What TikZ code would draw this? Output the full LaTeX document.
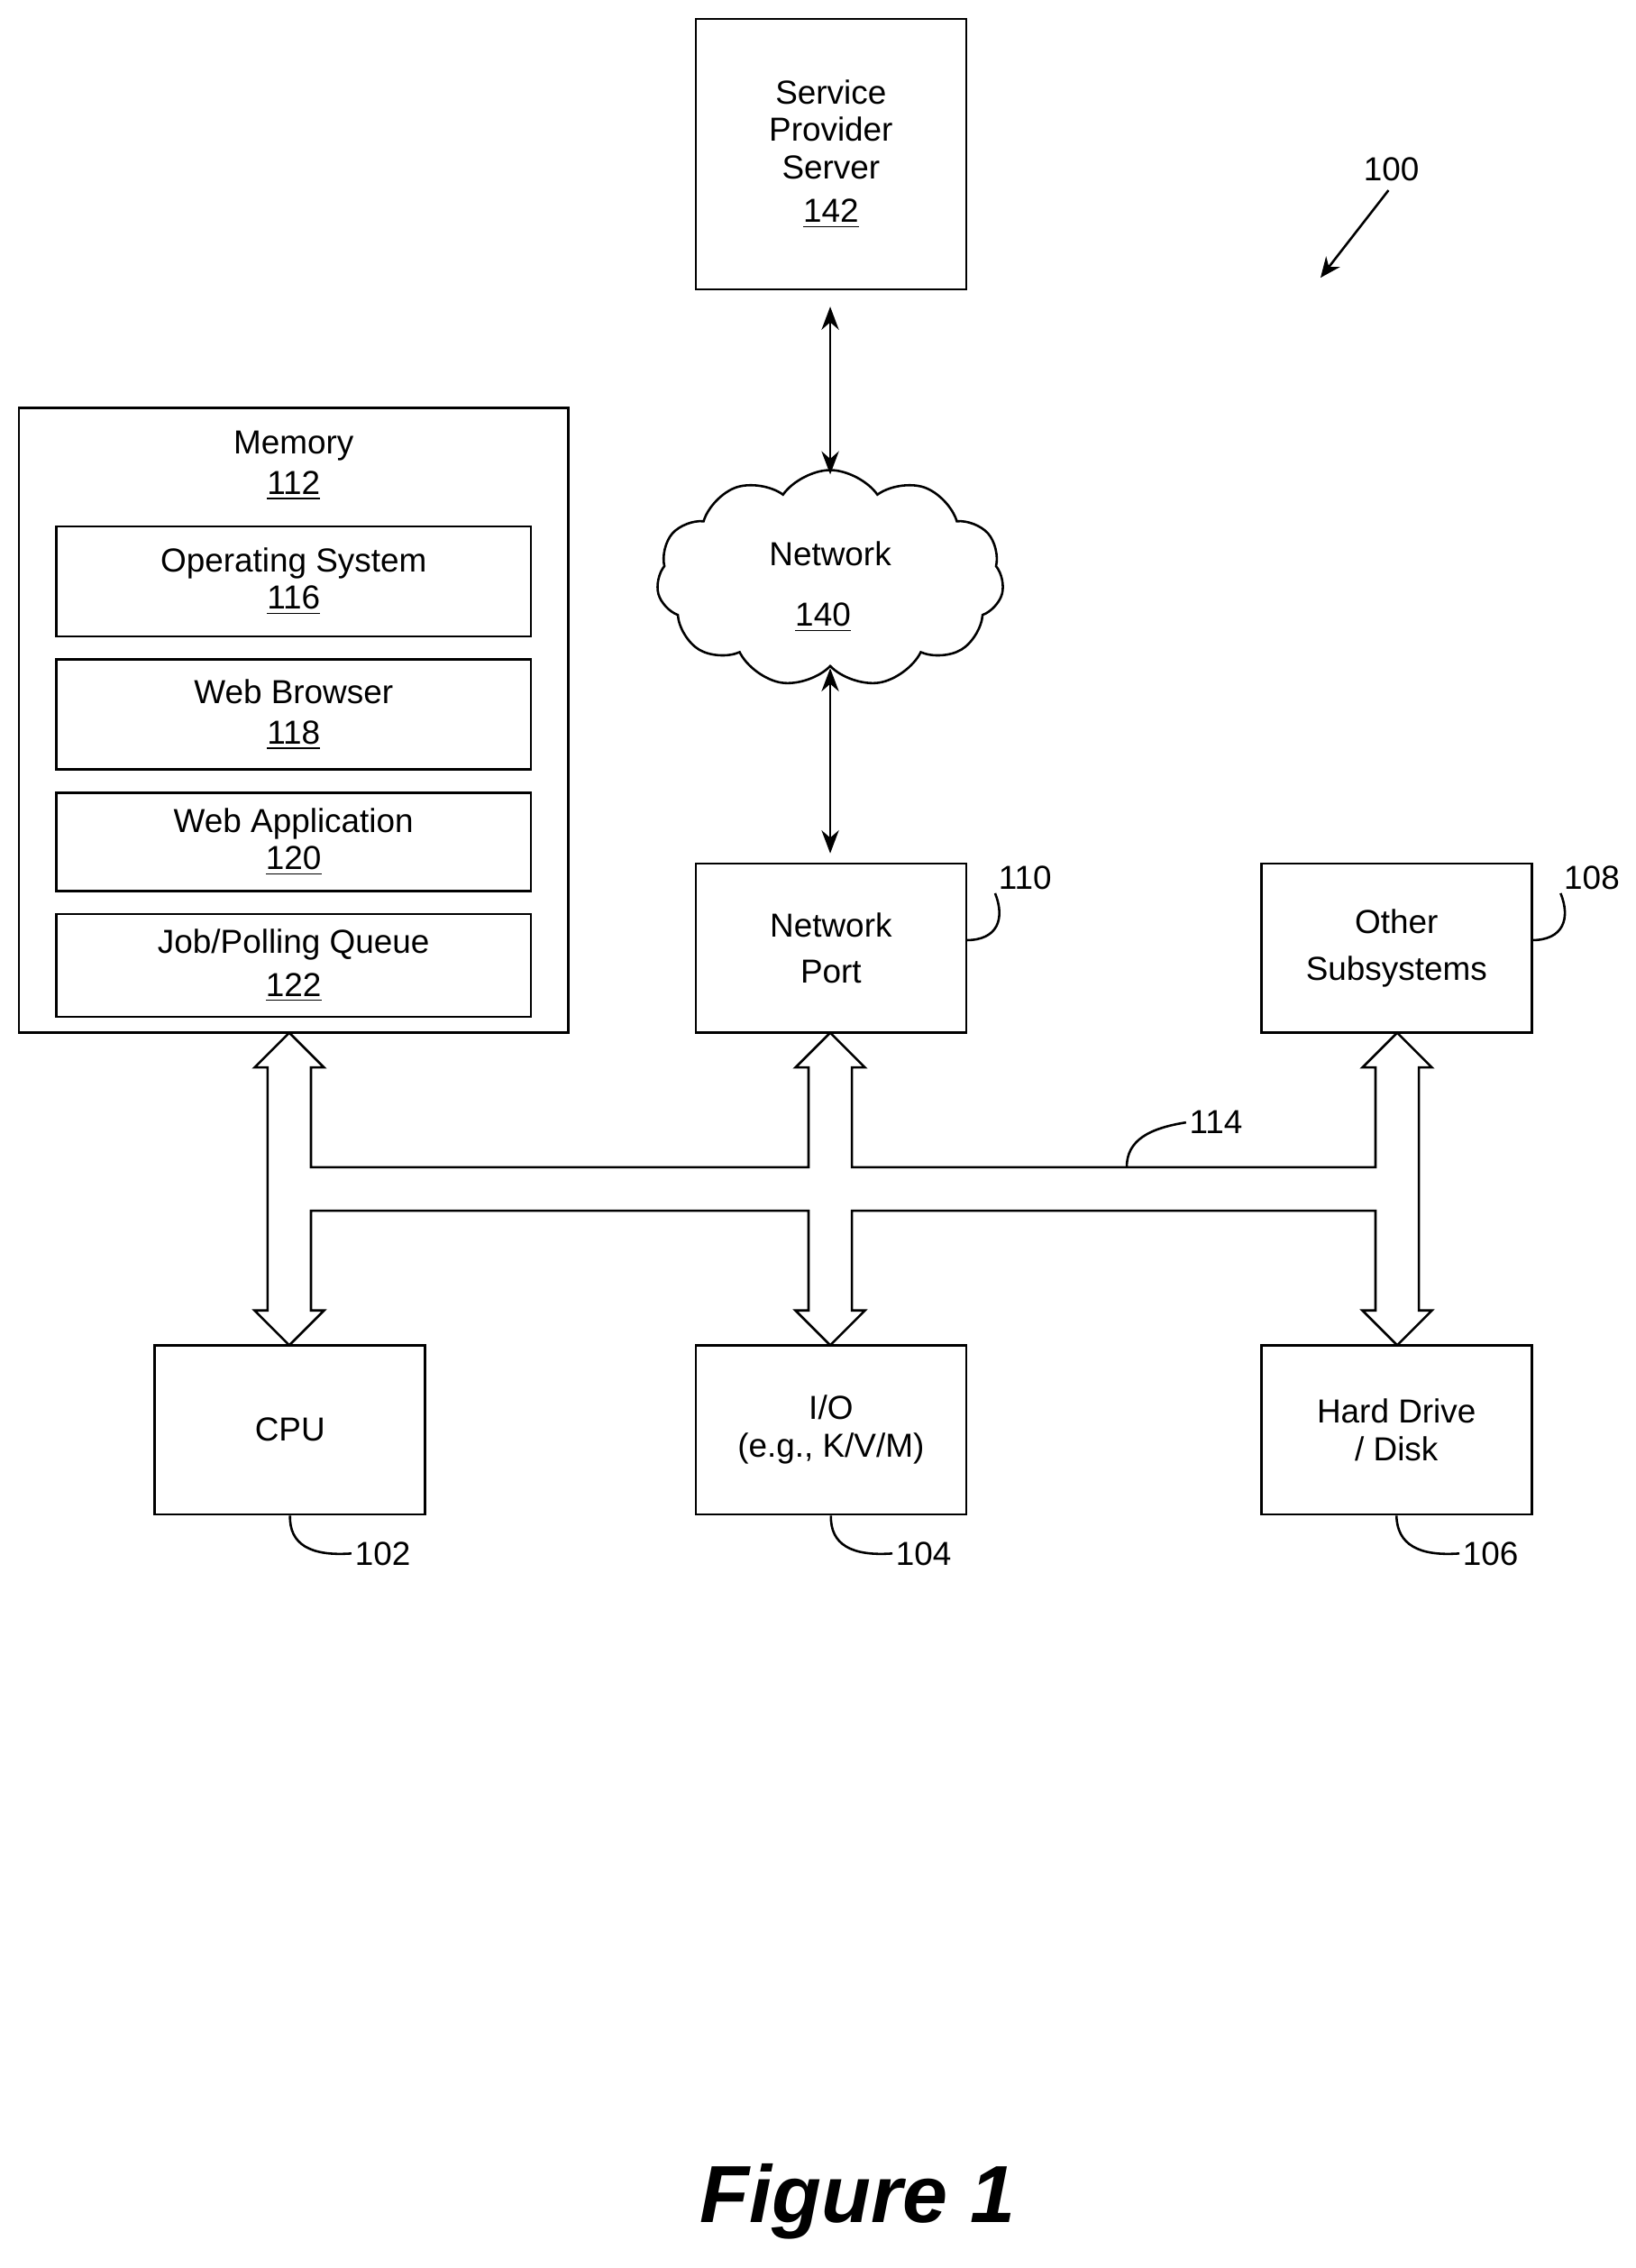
\documentclass[tikz,border=0pt]{standalone}
\usepackage{fontspec}
\setmainfont{Liberation Sans}
\usetikzlibrary{shapes.symbols,arrows.meta}
\begin{document}
\begin{tikzpicture}[x=0.5pt,y=-0.5pt,
  box/.style={draw,line width=0.8pt,inner sep=0pt,align=center,font=\fontsize{11.5}{13}\selectfont},
  lbl/.style={font=\fontsize{11.5}{13}\selectfont,inner sep=1pt},
  lead/.style={line width=0.8pt},
  dbl/.style={line width=0.8pt,{Stealth[length=8pt,width=6pt]}-{Stealth[length=8pt,width=6pt]}}]
\useasboundingbox (0,0) rectangle (1131,1568);
\fill[white] (0,0) rectangle (1131,1568);
% server
\node[box,minimum width=93.5pt,minimum height=93.5pt] (sps) at (574.5,106.5) {Service\\Provider\\Server\\[2pt]\underline{142}};
\node[lbl] (l100) at (962,117) {100};
\coordinate (a100) at (913,192);
\draw[line width=0.8pt,-{Stealth[length=7pt,width=6pt]}] (l100.south) ++(-2,4) -- (a100);
% cloud
\node[cloud,draw,line width=0.8pt,cloud puffs=11,cloud puff arc=110,aspect=1.6,minimum width=120pt,minimum height=75pt,inner sep=0pt] (net) at (574,400) {};
\node[lbl] (nett) at (574,383) {Network};
\node[lbl] (net140) at (569,427) {\underline{140}};
\coordinate (c1) at (574,212); \coordinate (c2) at (574,328);
\draw[dbl] (c1) -- (c2);
\coordinate (c3) at (574,462); \coordinate (c4) at (574,590);
\draw[dbl] (c3) -- (c4);
% memory
\node[box,minimum width=190pt,minimum height=216pt] (mem) at (203,498) {};
\node[lbl,align=center] (memt) at (203,322) {Memory\\[1pt]\underline{112}};
\node[box,minimum width=164pt,minimum height=38pt] (os) at (203,402) {Operating System\\\underline{116}};
\node[box,minimum width=164pt,minimum height=38pt] (wb) at (203,494) {Web Browser\\[1pt]\underline{118}};
\node[box,minimum width=164pt,minimum height=34pt] (wa) at (203,582) {Web Application\\\underline{120}};
\node[box,minimum width=164pt,minimum height=35.5pt] (jq) at (203,667.5) {Job/Polling Queue\\[2pt]\underline{122}};
% ports
\node[box,minimum width=93.5pt,minimum height=58.5pt] (np) at (574.5,655.5) {Network\\[3pt]Port};
\node[box,minimum width=93.5pt,minimum height=58.5pt] (os2) at (965.5,655.5) {Other\\[3pt]Subsystems};
\node[box,minimum width=93.5pt,minimum height=58.5pt] (cpu) at (200.5,988.5) {CPU};
\node[box,minimum width=93.5pt,minimum height=58.5pt] (io) at (574.5,988.5) {I/O\\(e.g., K/V/M)};
\node[box,minimum width=93.5pt,minimum height=58.5pt] (hd) at (965.5,988.5) {Hard Drive\\/ Disk};
\node[lbl,anchor=west] (l110) at (688,607) {110};
\node[lbl,anchor=west] (l108) at (1079,607) {108};
\node[lbl,anchor=west] (l102) at (243,1074) {102};
\node[lbl,anchor=west] (l104) at (617,1074) {104};
\node[lbl,anchor=west] (l106) at (1009,1074) {106};
\node[lbl,anchor=west] (l114) at (820,776) {114};
\draw[lead] (668,650) .. controls (690,650) and (695,635) .. (l110.south west);
\draw[lead] (1059,650) .. controls (1081,650) and (1086,635) .. (l108.south west);
\draw[lead] (cpu.south) .. controls (200,1068) and (215,1076) .. (l102.west);
\draw[lead] (io.south) .. controls (574,1068) and (589,1076) .. (l104.west);
\draw[lead] (hd.south) .. controls (966,1068) and (981,1076) .. (l106.west);
\draw[lead] (779,807) .. controls (779,788) and (795,780) .. (l114.west);
% bus
\draw[line width=0.8pt,line join=miter] (185,738) -- (176,738) -- (200,714) -- (224,738) -- (215,738) -- (215,807) -- (559,807) -- (559,738) -- (550,738) -- (574,714) -- (598,738) -- (589,738) -- (589,807) -- (951,807) -- (951,738) -- (942,738) -- (966,714) -- (990,738) -- (981,738) -- (981,906) -- (990,906) -- (966,930) -- (942,906) -- (951,906) -- (951,837) -- (589,837) -- (589,906) -- (598,906) -- (574,930) -- (550,906) -- (559,906) -- (559,837) -- (215,837) -- (215,906) -- (224,906) -- (200,930) -- (176,906) -- (185,906) -- cycle;
\node[font=\fontsize{28}{30}\selectfont\bfseries\itshape] (fig) at (593,1522) {Figure 1};
\end{tikzpicture}
\end{document}
